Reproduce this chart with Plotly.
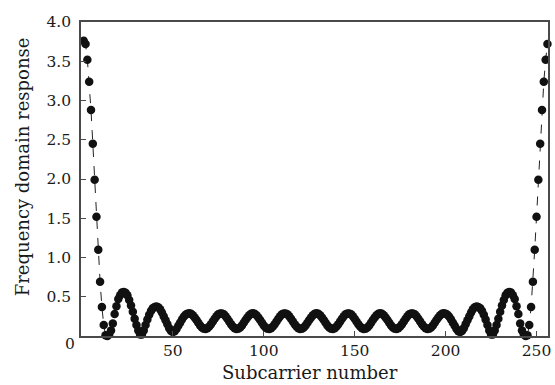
import plotly.graph_objects as go

subcarrier = list(range(1, 257))

response = [
    3.76, 3.72, 3.52, 3.24, 2.88, 2.45, 1.99, 1.52, 1.10, 0.69,
    0.37, 0.14, 0.01, 0.00, 0.02, 0.07, 0.16, 0.28, 0.38, 0.47,
    0.52, 0.555, 0.56, 0.55, 0.52, 0.46, 0.39, 0.31, 0.22, 0.14,
    0.07, 0.02, 0.02, 0.07, 0.14, 0.21, 0.27, 0.32, 0.355, 0.37,
    0.375, 0.365, 0.34, 0.30, 0.25, 0.20, 0.15, 0.10, 0.065, 0.05,
    0.06, 0.09, 0.13, 0.17, 0.21, 0.245, 0.27, 0.285, 0.29, 0.284,
    0.265, 0.237, 0.203, 0.168, 0.135, 0.109, 0.094, 0.090, 0.100, 0.121,
    0.151, 0.186, 0.221, 0.252, 0.276, 0.288, 0.288, 0.276, 0.252, 0.221,
    0.186, 0.151, 0.121, 0.100, 0.090, 0.094, 0.109, 0.135, 0.168, 0.203,
    0.237, 0.265, 0.284, 0.290, 0.284, 0.265, 0.237, 0.203, 0.168, 0.135,
    0.109, 0.094, 0.090, 0.100, 0.121, 0.151, 0.186, 0.221, 0.252, 0.276,
    0.288, 0.288, 0.276, 0.252, 0.221, 0.186, 0.151, 0.121, 0.100, 0.090,
    0.094, 0.109, 0.135, 0.168, 0.203, 0.237, 0.265, 0.284, 0.290, 0.284,
    0.265, 0.237, 0.203, 0.168, 0.135, 0.109, 0.094, 0.090, 0.100, 0.121,
    0.151, 0.186, 0.221, 0.252, 0.276, 0.288, 0.288, 0.276, 0.252, 0.221,
    0.186, 0.151, 0.121, 0.100, 0.090, 0.094, 0.109, 0.135, 0.168, 0.203,
    0.237, 0.265, 0.284, 0.290, 0.284, 0.265, 0.237, 0.203, 0.168, 0.135,
    0.109, 0.094, 0.090, 0.100, 0.121, 0.151, 0.186, 0.221, 0.252, 0.276,
    0.288, 0.288, 0.276, 0.252, 0.221, 0.186, 0.151, 0.121, 0.100, 0.090,
    0.094, 0.109, 0.135, 0.168, 0.203, 0.237, 0.265, 0.284, 0.290, 0.285,
    0.27, 0.245, 0.21, 0.17, 0.13, 0.09, 0.06, 0.05, 0.065, 0.10,
    0.15, 0.20, 0.25, 0.30, 0.34, 0.365, 0.375, 0.37, 0.355, 0.32,
    0.27, 0.21, 0.14, 0.07, 0.02, 0.02, 0.07, 0.14, 0.22, 0.31,
    0.39, 0.46, 0.52, 0.55, 0.56, 0.555, 0.52, 0.47, 0.38, 0.28,
    0.16, 0.07, 0.02, 0.00, 0.01, 0.14, 0.37, 0.69, 1.10, 1.52,
    1.99, 2.45, 2.88, 3.24, 3.52, 3.72,
]

x_ticks = [50, 100, 150, 200, 250]
y_ticks = [0, 0.5, 1.0, 1.5, 2.0, 2.5, 3.0, 3.5, 4.0]
y_tick_text = ["", "0.5", "1.0", "1.5", "2.0", "2.5", "3.0", "3.5", "4.0"]

x_title = "Subcarrier number"
y_title = "Frequency domain response"

FONT = "DejaVu Serif"
TEXT_COLOR = "#1a1a1a"
AXIS_COLOR = "#4a4a4a"

fig = go.Figure()
fig.add_trace(go.Scatter(
    x=subcarrier, y=response, mode="lines+markers",
    line=dict(color="#222222", width=1, dash="dash"),
    marker=dict(color="#111111", size=8.5),
    cliponaxis=False, showlegend=False, hoverinfo="skip",
))

fig.update_layout(
    width=555, height=385,
    margin=dict(l=81, r=4, t=22, b=49),
    paper_bgcolor="white", plot_bgcolor="white",
    font=dict(family=FONT, size=15, color=TEXT_COLOR),
    xaxis=dict(
        range=[-0.5, 256.3], tickvals=x_ticks, ticktext=[str(v) for v in x_ticks],
        ticks="inside", ticklen=5, tickcolor=AXIS_COLOR, tickwidth=1,
        showline=True, linecolor=AXIS_COLOR, linewidth=1.5, mirror=True,
        showgrid=False, zeroline=False, tickfont=dict(size=15.5),
    ),
    yaxis=dict(
        range=[0, 4.0], tickvals=y_ticks, ticktext=y_tick_text,
        ticks="inside", ticklen=5, tickcolor=AXIS_COLOR, tickwidth=1,
        showline=True, linecolor=AXIS_COLOR, linewidth=1.5, mirror=True,
        showgrid=False, zeroline=False, tickfont=dict(size=15.5),
        ticklabelstandoff=5,
    ),
    annotations=[
        dict(x=0, y=0, xref="paper", yref="y", text="0", showarrow=False,
             xanchor="right", yanchor="middle", xshift=-4, yshift=-8,
             font=dict(family=FONT, size=15.5, color=TEXT_COLOR)),
        dict(x=0, y=2.15, xref="paper", yref="y", text=y_title, showarrow=False,
             textangle=-90, xanchor="center", yanchor="middle", xshift=-59,
             font=dict(family=FONT, size=18, color=TEXT_COLOR)),
        dict(x=0.49, y=0, xref="paper", yref="paper", text=x_title, showarrow=False,
             xanchor="center", yanchor="middle", yshift=-36,
             font=dict(family=FONT, size=18, color=TEXT_COLOR)),
    ],
)

fig.write_html(
    "out.html",
    config={"displayModeBar": False},
    post_script="document.body.style.margin='0';document.body.style.padding='0';",
)
